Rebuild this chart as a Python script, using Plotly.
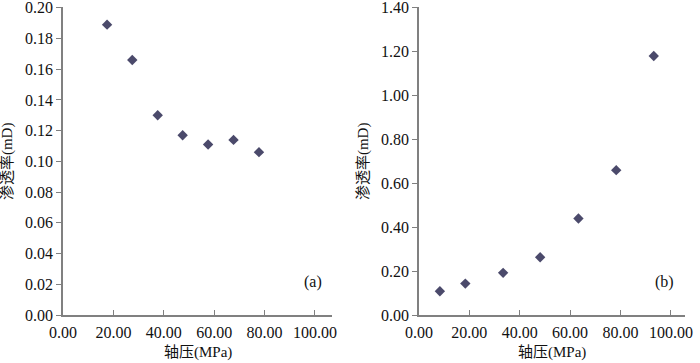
"""Permeability vs axial pressure, two panels."""

import plotly.graph_objects as go
from plotly.subplots import make_subplots

# panel (a)
pressure_a = [17.5, 27.5, 37.6, 47.5, 57.6, 67.7, 77.8]
perm_a = [0.189, 0.166, 0.130, 0.117, 0.111, 0.114, 0.106]

# panel (b)
pressure_b = [8.3, 18.4, 33.4, 48.1, 63.3, 78.3, 93.2]
perm_b = [0.108, 0.143, 0.192, 0.263, 0.440, 0.660, 1.180]

x_ticks = [0, 20, 40, 60, 80, 100]
x_tick_text = ["0.00", "20.00", "40.00", "60.00", "80.00", "100.00"]
y_ticks_a = [0.00, 0.02, 0.04, 0.06, 0.08, 0.10, 0.12, 0.14, 0.16, 0.18, 0.20]
y_ticks_b = [0.00, 0.20, 0.40, 0.60, 0.80, 1.00, 1.20, 1.40]

marker_color = "#4b4a6b"
axis_color = "#808080"
text_color = "#111111"
serif = "Liberation Serif"
cjk = "Liberation Serif, Noto Sans CJK SC"

fig = make_subplots(rows=1, cols=2)

fig.add_trace(
    go.Scatter(
        x=pressure_a, y=perm_a, mode="markers",
        marker=dict(symbol="diamond", size=8, color=marker_color),
        showlegend=False,
    ),
    row=1, col=1,
)
fig.add_trace(
    go.Scatter(
        x=pressure_b, y=perm_b, mode="markers",
        marker=dict(symbol="diamond", size=8, color=marker_color),
        showlegend=False,
    ),
    row=1, col=2,
)

common_x = dict(
    tickvals=x_ticks, ticktext=x_tick_text,
    showline=True, linecolor=axis_color, linewidth=1.5,
    ticks="inside", ticklen=5, tickcolor=axis_color,
    showgrid=False, zeroline=False, automargin=False,
    ticklabelstandoff=2,
    tickfont=dict(family=serif, size=16, color=text_color),
)
common_y = dict(
    showline=True, linecolor=axis_color, linewidth=1.5,
    ticks="outside", ticklen=5, tickcolor=axis_color,
    showgrid=False, zeroline=False, automargin=False,
    ticklabeloverflow="allow",
    tickfont=dict(family=serif, size=16, color=text_color),
)

fig.update_xaxes(common_x, range=[0, 106.8], domain=[0, 0.4325], row=1, col=1)
fig.update_xaxes(common_x, range=[0, 105.6], domain=[0.5723, 1.0], row=1, col=2)
fig.update_yaxes(common_y, range=[0, 0.2005], tickvals=y_ticks_a, tickformat=".2f", row=1, col=1)
fig.update_yaxes(common_y, range=[0, 1.4035], tickvals=y_ticks_b, tickformat=".2f", row=1, col=2)

# panel labels
fig.add_annotation(x=0.97, y=0.07, xref="x domain", yref="y domain", text="(a)",
                   showarrow=False, font=dict(family=serif, size=16, color=text_color))
fig.add_annotation(x=0.965, y=0.07, xref="x2 domain", yref="y2 domain", text="(b)",
                   showarrow=False, font=dict(family=serif, size=16, color=text_color))

# axis titles
for xref, yref, xpos in [("x domain", "y domain", -0.208), ("x2 domain", "y2 domain", -0.21)]:
    fig.add_annotation(x=0.5, y=-0.123, xref=xref, yref=yref,
                       xanchor="center", yanchor="middle",
                       text="轴压(MPa)", showarrow=False,
                       font=dict(family=cjk, size=15, color=text_color))
    fig.add_annotation(x=xpos, y=0.5, xref=xref, yref=yref, textangle=-90,
                       xanchor="center", yanchor="middle",
                       text="渗透率(mD)", showarrow=False,
                       font=dict(family=cjk, size=15, color=text_color))

fig.update_layout(
    width=700, height=363,
    paper_bgcolor="white", plot_bgcolor="white",
    margin=dict(l=63, r=15, t=7, b=48),
)

fig.write_html(
    "out.html",
    config={"displayModeBar": False},
    post_script="document.body.style.margin='0';",
)
